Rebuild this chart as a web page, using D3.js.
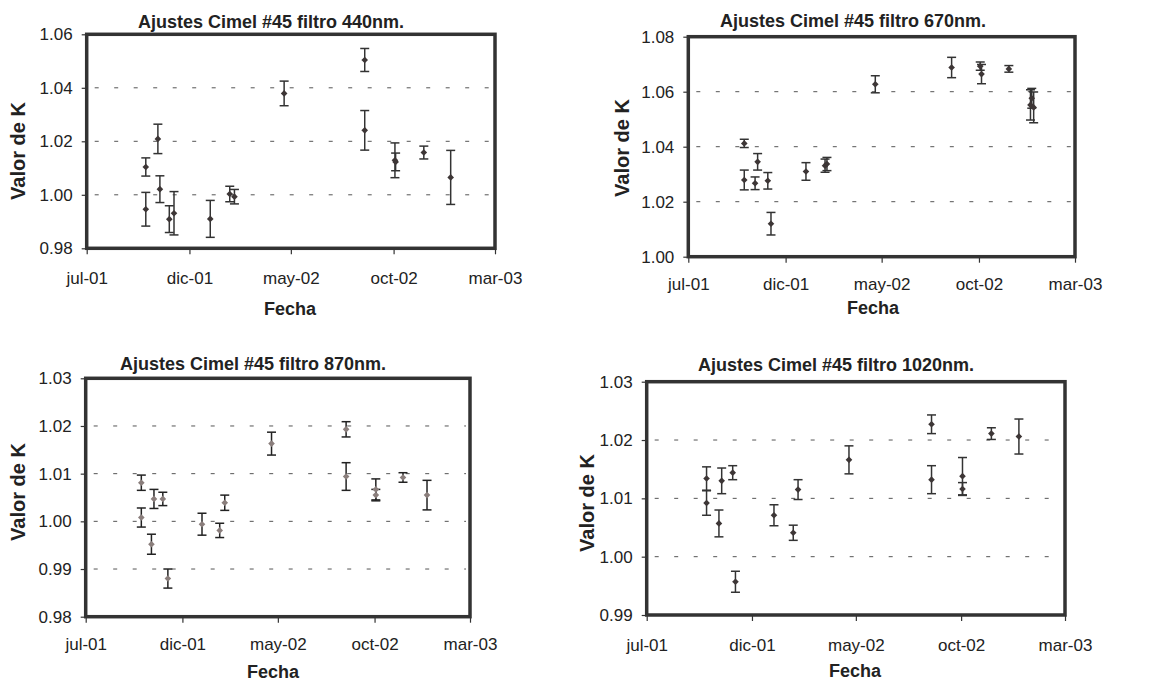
<!DOCTYPE html>
<html>
<head>
<meta charset="utf-8">
<script src="https://cdn.jsdelivr.net/npm/d3@7"></script>
<style>
  body { margin: 0; background: #fff; }
  svg { display: block; font-family: "Liberation Sans", Arial, sans-serif; }
</style>
</head>
<body>
<svg id="chart" width="1158" height="681"></svg>
<script>
// x axis (shared by all four panels)
const xTickDates = ['2001-07-01', '2001-12-01', '2002-05-01', '2002-10-01', '2003-03-01'];
const xTickLabels = ['jul-01', 'dic-01', 'may-02', 'oct-02', 'mar-03'];

// 440nm
const dates440 = ['2001-09-27', '2001-09-27', '2001-10-15', '2001-10-18', '2001-11-01', '2001-11-08',
  '2002-01-01', '2002-01-30', '2002-02-06', '2002-04-21', '2002-08-19', '2002-08-19',
  '2002-10-03', '2002-10-04', '2002-11-15', '2002-12-25'];
const k440 = [0.9946, 1.0104, 1.0209, 1.0021, 0.9909, 0.9931, 0.9910, 1.0003, 0.9993, 1.0379,
  1.0504, 1.0241, 1.0129, 1.0123, 1.0158, 1.0065];
const err440 = [0.0063, 0.0034, 0.0055, 0.0050, 0.0050, 0.0081, 0.0069, 0.0029, 0.0027, 0.0046,
  0.0043, 0.0074, 0.0065, 0.0033, 0.0024, 0.0101];
const yTicks440 = [0.98, 1.00, 1.02, 1.04, 1.06];

// 670nm
const dates670 = ['2001-09-27', '2001-09-27', '2001-10-14', '2001-10-18', '2001-11-03', '2001-11-08',
  '2002-01-02', '2002-02-01', '2002-02-04', '2002-04-21', '2002-08-19', '2002-10-03',
  '2002-10-05', '2002-11-17', '2002-12-21', '2002-12-23', '2002-12-26'];
const k670 = [1.0412, 1.0279, 1.0267, 1.0345, 1.0276, 1.0120, 1.0310, 1.0331, 1.0337, 1.0627,
  1.0688, 1.0693, 1.0664, 1.0683, 1.0552, 1.0576, 1.0543];
const err670 = [0.0015, 0.0036, 0.0023, 0.0030, 0.0030, 0.0041, 0.0032, 0.0024, 0.0024, 0.0031,
  0.0037, 0.0015, 0.0035, 0.0012, 0.0055, 0.0036, 0.0056];
const yTicks670 = [1.00, 1.02, 1.04, 1.06, 1.08];

// 870nm
const dates870 = ['2001-09-27', '2001-09-27', '2001-10-13', '2001-10-17', '2001-10-31', '2001-11-08',
  '2002-01-01', '2002-01-29', '2002-02-06', '2002-04-21', '2002-08-17', '2002-08-17',
  '2002-10-03', '2002-10-03', '2002-11-15', '2002-12-23'];
const k870 = [1.0081, 1.0008, 0.9952, 1.0047, 1.0047, 0.9880, 0.9994, 0.9981, 1.0039, 1.0163,
  1.0193, 1.0094, 1.0067, 1.0055, 1.0092, 1.0055];
const err870 = [0.0016, 0.0020, 0.0021, 0.0020, 0.0014, 0.0020, 0.0023, 0.0015, 0.0016, 0.0024,
  0.0016, 0.0029, 0.0022, 0.0012, 0.0010, 0.0031];
const yTicks870 = [0.98, 0.99, 1.00, 1.01, 1.02, 1.03];

// 1020nm
const dates1020 = ['2001-09-26', '2001-09-26', '2001-10-14', '2001-10-18', '2001-11-03', '2001-11-07',
  '2002-01-02', '2002-01-30', '2002-02-06', '2002-04-21', '2002-08-19', '2002-08-19',
  '2002-10-03', '2002-10-03', '2002-11-14', '2002-12-24'];
const k1020 = [1.0134, 1.0092, 1.0057, 1.0130, 1.0144, 0.9957, 1.0071, 1.0041, 1.0115, 1.0166,
  1.0227, 1.0132, 1.0138, 1.0116, 1.0211, 1.0206];
const err1020 = [0.0020, 0.0021, 0.0023, 0.0022, 0.0012, 0.0018, 0.0018, 0.0013, 0.0017, 0.0024,
  0.0016, 0.0024, 0.0032, 0.0011, 0.0010, 0.0030];
const yTicks1020 = [0.99, 1.00, 1.01, 1.02, 1.03];

const parse = d3.timeParse('%Y-%m-%d');
const svg = d3.select('#chart');

function drawPanel(p) {
  const g = svg.append('g');
  const x = d3.scaleTime()
    .domain([parse(xTickDates[0]), parse(xTickDates[xTickDates.length - 1])])
    .range([p.left, p.right]);
  const y = d3.scaleLinear()
    .domain([p.yTicks[0], p.yTicks[p.yTicks.length - 1]])
    .range([p.bottom, p.top]);

  // dashed grid
  g.append('g')
    .selectAll('line')
    .data(p.yTicks.slice(1, -1))
    .enter().append('line')
      .attr('x1', p.left + 8).attr('x2', p.right - 4)
      .attr('y1', d => y(d)).attr('y2', d => y(d))
      .attr('stroke', '#555').attr('stroke-width', 1)
      .attr('stroke-dasharray', '4,15.5');

  // axes
  const yAxis = g.append('g')
    .attr('transform', `translate(${p.left},0)`)
    .call(d3.axisLeft(y).tickValues(p.yTicks).tickFormat(d3.format('.2f')).tickSize(5).tickPadding(9));
  const xAxis = g.append('g')
    .attr('transform', `translate(0,${p.bottom})`)
    .call(d3.axisBottom(x).tickValues(xTickDates.map(parse))
      .tickFormat((d, i) => xTickLabels[i]).tickSize(6).tickPadding(p.xPad));
  [yAxis, xAxis].forEach(a => {
    a.select('.domain').remove();
    a.selectAll('.tick line').attr('stroke', '#333').attr('stroke-width', 1.2);
    a.selectAll('.tick text').attr('fill', '#222').style('font-size', '17px');
  });

  // frame
  g.append('rect')
    .attr('x', p.left).attr('y', p.top)
    .attr('width', p.right - p.left).attr('height', p.bottom - p.top)
    .attr('fill', 'none').attr('stroke', '#333').attr('stroke-width', 3.5);

  const pts = p.dates.map((d, i) => ({ date: parse(d), k: p.values[i], e: p.errs[i] }));

  // error bars
  const eb = g.append('g').attr('stroke', p.barColor).attr('stroke-width', 1.5);
  eb.selectAll('line.v').data(pts).enter().append('line')
    .attr('x1', d => x(d.date)).attr('x2', d => x(d.date))
    .attr('y1', d => y(d.k + d.e)).attr('y2', d => y(d.k - d.e));
  eb.selectAll('line.t').data(pts).enter().append('line')
    .attr('x1', d => x(d.date) - 4.5).attr('x2', d => x(d.date) + 4.5)
    .attr('y1', d => y(d.k + d.e)).attr('y2', d => y(d.k + d.e));
  eb.selectAll('line.b').data(pts).enter().append('line')
    .attr('x1', d => x(d.date) - 4.5).attr('x2', d => x(d.date) + 4.5)
    .attr('y1', d => y(d.k - d.e)).attr('y2', d => y(d.k - d.e));

  // diamond markers
  g.append('g').selectAll('path').data(pts).enter().append('path')
    .attr('d', d3.symbol().type(d3.symbolSquare).size(22))
    .attr('transform', d => `translate(${x(d.date)},${y(d.k)}) rotate(45)`)
    .attr('fill', p.markColor);

  // title and axis titles
  g.append('text')
    .attr('x', p.titleX).attr('y', p.titleY)
    .attr('text-anchor', 'middle').attr('font-weight', 'bold').attr('font-size', 18)
    .attr('fill', '#222')
    .text(p.title);
  g.append('text')
    .attr('x', p.fechaX).attr('y', p.fechaY)
    .attr('text-anchor', 'middle').attr('font-weight', 'bold').attr('font-size', 18)
    .attr('fill', '#222')
    .text('Fecha');
  g.append('text')
    .attr('transform', `translate(${p.valorX},${p.valorY}) rotate(-90)`)
    .attr('text-anchor', 'middle').attr('font-weight', 'bold').attr('font-size', 20)
    .attr('dy', '0.35em')
    .attr('fill', '#222')
    .text('Valor de K');
}

drawPanel({
  dates: dates440, values: k440, errs: err440, yTicks: yTicks440,
  left: 86.7, right: 495, top: 34.3, bottom: 248.3, xPad: 18,
  title: 'Ajustes Cimel #45 filtro 440nm.', titleX: 271, titleY: 28,
  fechaX: 290, fechaY: 315, valorX: 18, valorY: 151,
  markColor: '#3d3636', barColor: '#333'
});
drawPanel({
  dates: dates670, values: k670, errs: err670, yTicks: yTicks670,
  left: 688.3, right: 1075, top: 36.7, bottom: 256.7, xPad: 15,
  title: 'Ajustes Cimel #45 filtro 670nm.', titleX: 853, titleY: 27,
  fechaX: 873, fechaY: 314, valorX: 621.7, valorY: 148,
  markColor: '#3d3636', barColor: '#333'
});
drawPanel({
  dates: dates870, values: k870, errs: err870, yTicks: yTicks870,
  left: 85.7, right: 470, top: 378.3, bottom: 616.7, xPad: 15,
  title: 'Ajustes Cimel #45 filtro 870nm.', titleX: 253, titleY: 370,
  fechaX: 273, fechaY: 678, valorX: 18, valorY: 492,
  markColor: '#8a7e7c', barColor: '#222'
});
drawPanel({
  dates: dates1020, values: k1020, errs: err1020, yTicks: yTicks1020,
  left: 646.7, right: 1065, top: 381.7, bottom: 615, xPad: 18,
  title: 'Ajustes Cimel #45 filtro 1020nm.', titleX: 836, titleY: 371,
  fechaX: 855, fechaY: 677, valorX: 587, valorY: 503,
  markColor: '#3d3636', barColor: '#333'
});
</script>
</body>
</html>
